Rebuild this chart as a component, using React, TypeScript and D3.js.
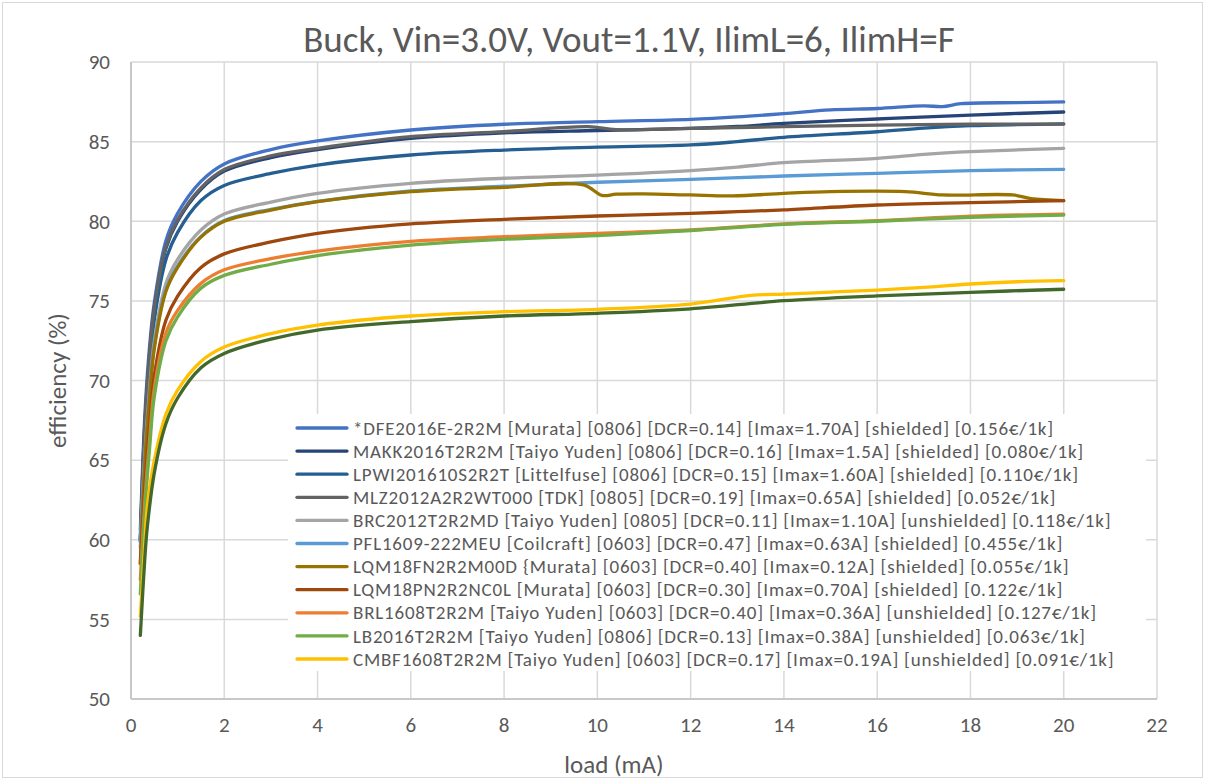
import React from "react";
import * as d3 from "d3";

const chartTitle = "Buck, Vin=3.0V, Vout=1.1V, IlimL=6, IlimH=F";
const xTitle = "load (mA)";
const yTitle = "efficiency (%)";
const xTicks = [0, 2, 4, 6, 8, 10, 12, 14, 16, 18, 20, 22];
const yTicks = [50, 55, 60, 65, 70, 75, 80, 85, 90];

const loadBase = [0.2, 0.3, 0.4, 0.5, 0.75, 1, 1.5, 2, 3, 4, 6, 8, 10, 12, 14, 16, 18, 20];

const dfeLoad = [0.2, 0.3, 0.4, 0.5, 0.75, 1, 1.5, 2, 3, 4, 6, 8, 10, 12, 13, 14, 15, 16, 17, 17.4, 17.8, 19, 20];
const dfeEff = [60.6, 68.0, 72.2, 74.9, 78.8, 80.5, 82.5, 83.6, 84.5, 85.04, 85.73, 86.09, 86.25, 86.4, 86.55, 86.76, 87.0, 87.08, 87.25, 87.2, 87.38, 87.45, 87.49];

const makkLoad = [0.2, 0.3, 0.4, 0.5, 0.75, 1, 1.5, 2, 3, 4, 6, 8, 10, 12, 13, 14, 16, 18, 20];
const makkEff = [60.0, 67.3, 71.6, 74.5, 78.3, 80.0, 82.0, 83.15, 84.0, 84.5, 85.2, 85.55, 85.7, 85.83, 85.95, 86.14, 86.42, 86.67, 86.86];

const lpwiLoad = [0.2, 0.3, 0.4, 0.5, 0.75, 1, 1.5, 2, 3, 4, 6, 8, 10, 12, 13, 14, 16, 17, 18, 20];
const lpwiEff = [59.9, 66.5, 70.8, 73.8, 77.6, 79.3, 81.3, 82.25, 83.0, 83.53, 84.16, 84.47, 84.65, 84.79, 85.0, 85.27, 85.62, 85.85, 86.0, 86.12];

const mlzLoad = [0.2, 0.3, 0.4, 0.5, 0.75, 1, 1.5, 2, 3, 4, 6, 8, 9.8, 10.4, 12, 14, 16, 18, 20];
const mlzEff = [60.1, 67.5, 71.8, 74.6, 78.4, 80.1, 82.1, 83.25, 84.1, 84.58, 85.31, 85.63, 85.94, 85.75, 85.83, 85.94, 86.04, 86.09, 86.1];

const brcLoad = [0.2, 0.3, 0.4, 0.5, 0.75, 1, 1.5, 2, 3, 4, 6, 8, 10, 12, 13, 14, 16, 17, 18, 20];
const brcEff = [59.5, 65.5, 69.5, 72.5, 76.1, 77.6, 79.45, 80.45, 81.2, 81.75, 82.38, 82.7, 82.9, 83.18, 83.4, 83.68, 83.95, 84.2, 84.37, 84.58];

const pflLoad = loadBase;
const pflEff = [59.9, 65.3, 69.2, 72.2, 75.7, 77.2, 79.05, 80.05, 80.75, 81.25, 81.9, 82.2, 82.45, 82.63, 82.84, 83.01, 83.18, 83.26];

const lqmFnLoad = [0.2, 0.3, 0.4, 0.5, 0.75, 1, 1.5, 2, 3, 4, 6, 8, 9.7, 10.1, 10.4, 11, 12, 12.9, 14, 15, 16.6, 17.4, 18.9, 19.3, 20];
const lqmFnEff = [58.5, 65.0, 69.0, 72.0, 75.6, 77.1, 79.0, 80.0, 80.7, 81.23, 81.86, 82.13, 82.28, 81.62, 81.7, 81.72, 81.65, 81.59, 81.75, 81.86, 81.86, 81.65, 81.65, 81.42, 81.29];

const lqmPnLoad = [0.2, 0.3, 0.4, 0.5, 0.75, 1, 1.5, 2, 3, 4, 6, 8, 10, 12, 13, 14, 16, 18, 20];
const lqmPnEff = [58.5, 63.5, 67.3, 70.3, 73.8, 75.3, 77.1, 77.95, 78.7, 79.24, 79.83, 80.12, 80.33, 80.5, 80.6, 80.71, 81.02, 81.17, 81.29];

const brlLoad = loadBase;
const brlEff = [57.5, 62.5, 66.3, 69.5, 73.0, 74.4, 76.1, 76.95, 77.65, 78.13, 78.74, 79.03, 79.24, 79.45, 79.83, 80.04, 80.32, 80.45];

const lbLoad = loadBase;
const lbEff = [56.6, 62.0, 65.8, 69.0, 72.5, 74.0, 75.8, 76.6, 77.3, 77.84, 78.5, 78.87, 79.1, 79.42, 79.8, 80.0, 80.25, 80.39];

const cmbfLoad = [0.2, 0.3, 0.35, 0.5, 0.75, 1, 1.5, 2, 3, 4, 6, 8, 10, 12, 13.3, 14, 15, 16, 17, 18, 19, 20];
const cmbfEff = [55.2, 60.0, 62.1, 65.0, 67.9, 69.4, 71.2, 72.1, 72.95, 73.48, 74.05, 74.32, 74.47, 74.8, 75.35, 75.43, 75.55, 75.68, 75.85, 76.06, 76.2, 76.27];

const extraLoad = [0.2, 0.3, 0.35, 0.5, 0.75, 1, 1.5, 2, 3, 4, 6, 8, 10, 12, 14, 16, 18, 20];
const extraEff = [54.0, 59.0, 60.8, 64.2, 67.3, 68.9, 70.8, 71.7, 72.6, 73.17, 73.7, 74.05, 74.22, 74.5, 75.01, 75.31, 75.54, 75.73];

const seriesNames = [
  "*DFE2016E-2R2M [Murata] [0806] [DCR=0.14] [Imax=1.70A] [shielded] [0.156€/1k]",
  "MAKK2016T2R2M [Taiyo Yuden] [0806] [DCR=0.16] [Imax=1.5A] [shielded] [0.080€/1k]",
  "LPWI201610S2R2T [Littelfuse] [0806] [DCR=0.15] [Imax=1.60A] [shielded] [0.110€/1k]",
  "MLZ2012A2R2WT000 [TDK] [0805] [DCR=0.19] [Imax=0.65A] [shielded] [0.052€/1k]",
  "BRC2012T2R2MD [Taiyo Yuden] [0805] [DCR=0.11] [Imax=1.10A] [unshielded] [0.118€/1k]",
  "PFL1609-222MEU [Coilcraft] [0603] [DCR=0.47] [Imax=0.63A] [shielded] [0.455€/1k]",
  "LQM18FN2R2M00D {Murata] [0603] [DCR=0.40] [Imax=0.12A] [shielded] [0.055€/1k]",
  "LQM18PN2R2NC0L [Murata] [0603] [DCR=0.30] [Imax=0.70A] [shielded] [0.122€/1k]",
  "BRL1608T2R2M [Taiyo Yuden] [0603] [DCR=0.40] [Imax=0.36A] [unshielded] [0.127€/1k]",
  "LB2016T2R2M [Taiyo Yuden] [0806] [DCR=0.13] [Imax=0.38A] [unshielded] [0.063€/1k]",
  "CMBF1608T2R2M [Taiyo Yuden] [0603] [DCR=0.17] [Imax=0.19A] [unshielded] [0.091€/1k]",
  "",
];
const seriesColors = ["#4472C4", "#264478", "#255E91", "#636363", "#A5A5A5", "#5B9BD5", "#997300", "#9E480E", "#ED7D31", "#70AD47", "#FFC000", "#43682B"];
const seriesLoads = [dfeLoad, makkLoad, lpwiLoad, mlzLoad, brcLoad, pflLoad, lqmFnLoad, lqmPnLoad, brlLoad, lbLoad, cmbfLoad, extraLoad];
const seriesEffs = [dfeEff, makkEff, lpwiEff, mlzEff, brcEff, pflEff, lqmFnEff, lqmPnEff, brlEff, lbEff, cmbfEff, extraEff];

const W = 1205;
const H = 780;
const PL = 131, PR = 1157, PT = 62, PB = 699;
const FONT = "Carlito, Calibri, Lato, 'Liberation Sans', sans-serif";
const TXT = "#595959";
const GRID = "#d9d9d9";

export default function App() {
  const x = d3.scaleLinear().domain([0, 22]).range([PL, PR]);
  const y = d3.scaleLinear().domain([50, 90]).range([PB, PT]);
  const line = d3
    .line<[number, number]>()
    .x((d) => x(d[0]))
    .y((d) => y(d[1]))
    .curve(d3.curveCatmullRom.alpha(0.5));

  const series = seriesNames.map((name, i) => ({
    name,
    color: seriesColors[i],
    pts: seriesLoads[i].map((l, j) => [l, seriesEffs[i][j]] as [number, number]),
  }));
  const legendItems = series.filter((s) => s.name !== "");
  const legX = 288, legY = 414, legRow = 23.1;

  return (
    <svg width={W} height={H} style={{ position: "absolute", left: 0, top: 0, background: "#fff" }} fontFamily={FONT}>
      <rect x={2.5} y={2.5} width={W - 5} height={H - 5} fill="#fff" stroke={GRID} strokeWidth={1} />
      <text x={629} y={52} textAnchor="middle" fontSize={37} fill={TXT} fontWeight={300}>{chartTitle}</text>

      {xTicks.map((t) => (
        <line key={"gx" + t} x1={x(t)} x2={x(t)} y1={PT} y2={PB} stroke={GRID} strokeWidth={1.5} />
      ))}
      {yTicks.map((t) => (
        <line key={"gy" + t} x1={PL} x2={PR} y1={y(t)} y2={y(t)} stroke={GRID} strokeWidth={1.5} />
      ))}
      <line x1={PL} x2={PL} y1={PT} y2={PB} stroke="#bfbfbf" strokeWidth={1.5} />
      <line x1={PL} x2={PR} y1={PB} y2={PB} stroke="#bfbfbf" strokeWidth={1.5} />

      {yTicks.map((t) => (
        <text key={"ty" + t} x={110} y={y(t)} dy="0.35em" textAnchor="end" fontSize={21} fill={TXT}>{t}</text>
      ))}
      {xTicks.map((t) => (
        <text key={"tx" + t} x={x(t)} y={PB + 33} textAnchor="middle" fontSize={21} fill={TXT}>{t}</text>
      ))}
      <text x={614} y={773} textAnchor="middle" fontSize={25} fill={TXT}>{xTitle}</text>
      <text transform={`translate(66,${(PT + PB) / 2}) rotate(-90)`} textAnchor="middle" fontSize={25} fill={TXT}>{yTitle}</text>

      <rect x={legX} y={legY} width={858} height={257} fill="#fff" />

      {series.map((s, i) => (
        <path key={"s" + i} d={line(s.pts) || ""} fill="none" stroke={s.color} strokeWidth={3.3} strokeLinecap="round" strokeLinejoin="round" />
      ))}

      {legendItems.map((s, i) => {
        const cy = legY + 14 + i * legRow;
        return (
          <g key={"lg" + i}>
            <line x1={297} x2={347} y1={cy} y2={cy} stroke={s.color} strokeWidth={3.3} strokeLinecap="round" />
            <text x={353} y={cy} dy="0.35em" fontSize={19} letterSpacing={0.8} fill={TXT}>{s.name}</text>
          </g>
        );
      })}
    </svg>
  );
}
